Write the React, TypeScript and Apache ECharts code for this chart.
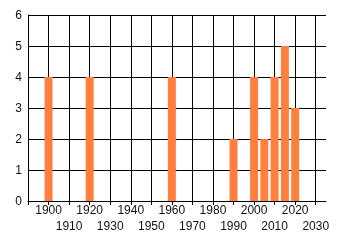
import React, { useEffect, useRef } from "react";
import * as echarts from "echarts";

const years = [1900, 1920, 1960, 1990, 2000, 2005, 2010, 2015, 2020];
const counts = [4, 4, 4, 2, 4, 2, 4, 5, 3];
const xTicks = [1890, 1900, 1910, 1920, 1930, 1940, 1950, 1960, 1970, 1980, 1990, 2000, 2010, 2020, 2030];
const xLabelsRow1 = [1900, 1920, 1940, 1960, 1980, 2000, 2020];
const xLabelsRow2 = [1910, 1930, 1950, 1970, 1990, 2010, 2030];
const yTicks = [0, 1, 2, 3, 4, 5, 6];

const X_MIN = 1890;
const X_MAX = 2035;
const GRID_LEFT = 28;
const GRID_RIGHT = 14;
const W = 340;

export default function App() {
  const ref = useRef<HTMLDivElement>(null);
  useEffect(() => {
    if (!ref.current) return;
    const chart = echarts.init(ref.current, null, { renderer: "svg" });
    const plotW = W - GRID_LEFT - GRID_RIGHT;
    const lastGrid = xTicks[xTicks.length - 1];
    const gridRight2 = GRID_RIGHT + (plotW * (X_MAX - lastGrid)) / (X_MAX - X_MIN);
    const labelStyle = {
      color: "#111",
      fontFamily: "Liberation Sans",
      fontSize: 12,
      hideOverlap: false,
      formatter: (v: number) => String(Math.round(v)),
    };
    chart.setOption({
      animation: false,
      grid: [
        { left: GRID_LEFT, right: GRID_RIGHT, top: 15, bottom: 44, containLabel: false },
        { left: GRID_LEFT, right: gridRight2, top: 15, bottom: 44, containLabel: false },
      ],
      xAxis: [
        {
          type: "value",
          gridIndex: 0,
          min: X_MIN,
          max: X_MAX,
          interval: 10,
          axisLine: { show: true, lineStyle: { color: "#000", width: 1 } },
          axisTick: { show: true, length: 4, lineStyle: { color: "#000" }, customValues: xTicks },
          splitLine: { show: false },
          axisLabel: { ...labelStyle, customValues: xLabelsRow1, margin: 3 },
        },
        {
          type: "value",
          gridIndex: 0,
          position: "bottom",
          offset: 16,
          min: X_MIN,
          max: X_MAX,
          interval: 10,
          axisLine: { show: false },
          axisTick: { show: false },
          splitLine: { show: false },
          axisLabel: { ...labelStyle, customValues: xLabelsRow2, margin: 3 },
        },
        {
          type: "value",
          gridIndex: 1,
          min: X_MIN,
          max: lastGrid,
          interval: 10,
          axisLine: { show: false },
          axisTick: { show: false },
          axisLabel: { show: false },
          splitLine: { show: true, lineStyle: { color: "#000", width: 1 } },
        },
      ],
      yAxis: [
        {
          type: "value",
          gridIndex: 0,
          min: 0,
          max: 6,
          interval: 1,
          axisLine: { show: true, lineStyle: { color: "#000", width: 1 } },
          axisTick: { show: false },
          splitLine: { show: true, lineStyle: { color: "#000", width: 1 } },
          axisLabel: {
            color: "#111",
            fontFamily: "Liberation Sans",
            fontSize: 12,
            margin: 6,
            formatter: (v: number) => (yTicks.includes(v) ? String(v) : ""),
          },
        },
        {
          type: "value",
          gridIndex: 1,
          min: 0,
          max: 6,
          interval: 1,
          show: false,
          splitLine: { show: false },
        },
      ],
      series: [
        {
          type: "bar",
          xAxisIndex: 0,
          yAxisIndex: 0,
          barWidth: 8,
          z: 3,
          itemStyle: { color: "#FF7F3F" },
          data: years.map((y, i) => [y, counts[i]]),
        },
      ],
    });
    return () => chart.dispose();
  }, []);
  return (
    <div
      ref={ref}
      style={{ position: "fixed", left: 0, top: 0, width: 340, height: 245 }}
    />
  );
}
